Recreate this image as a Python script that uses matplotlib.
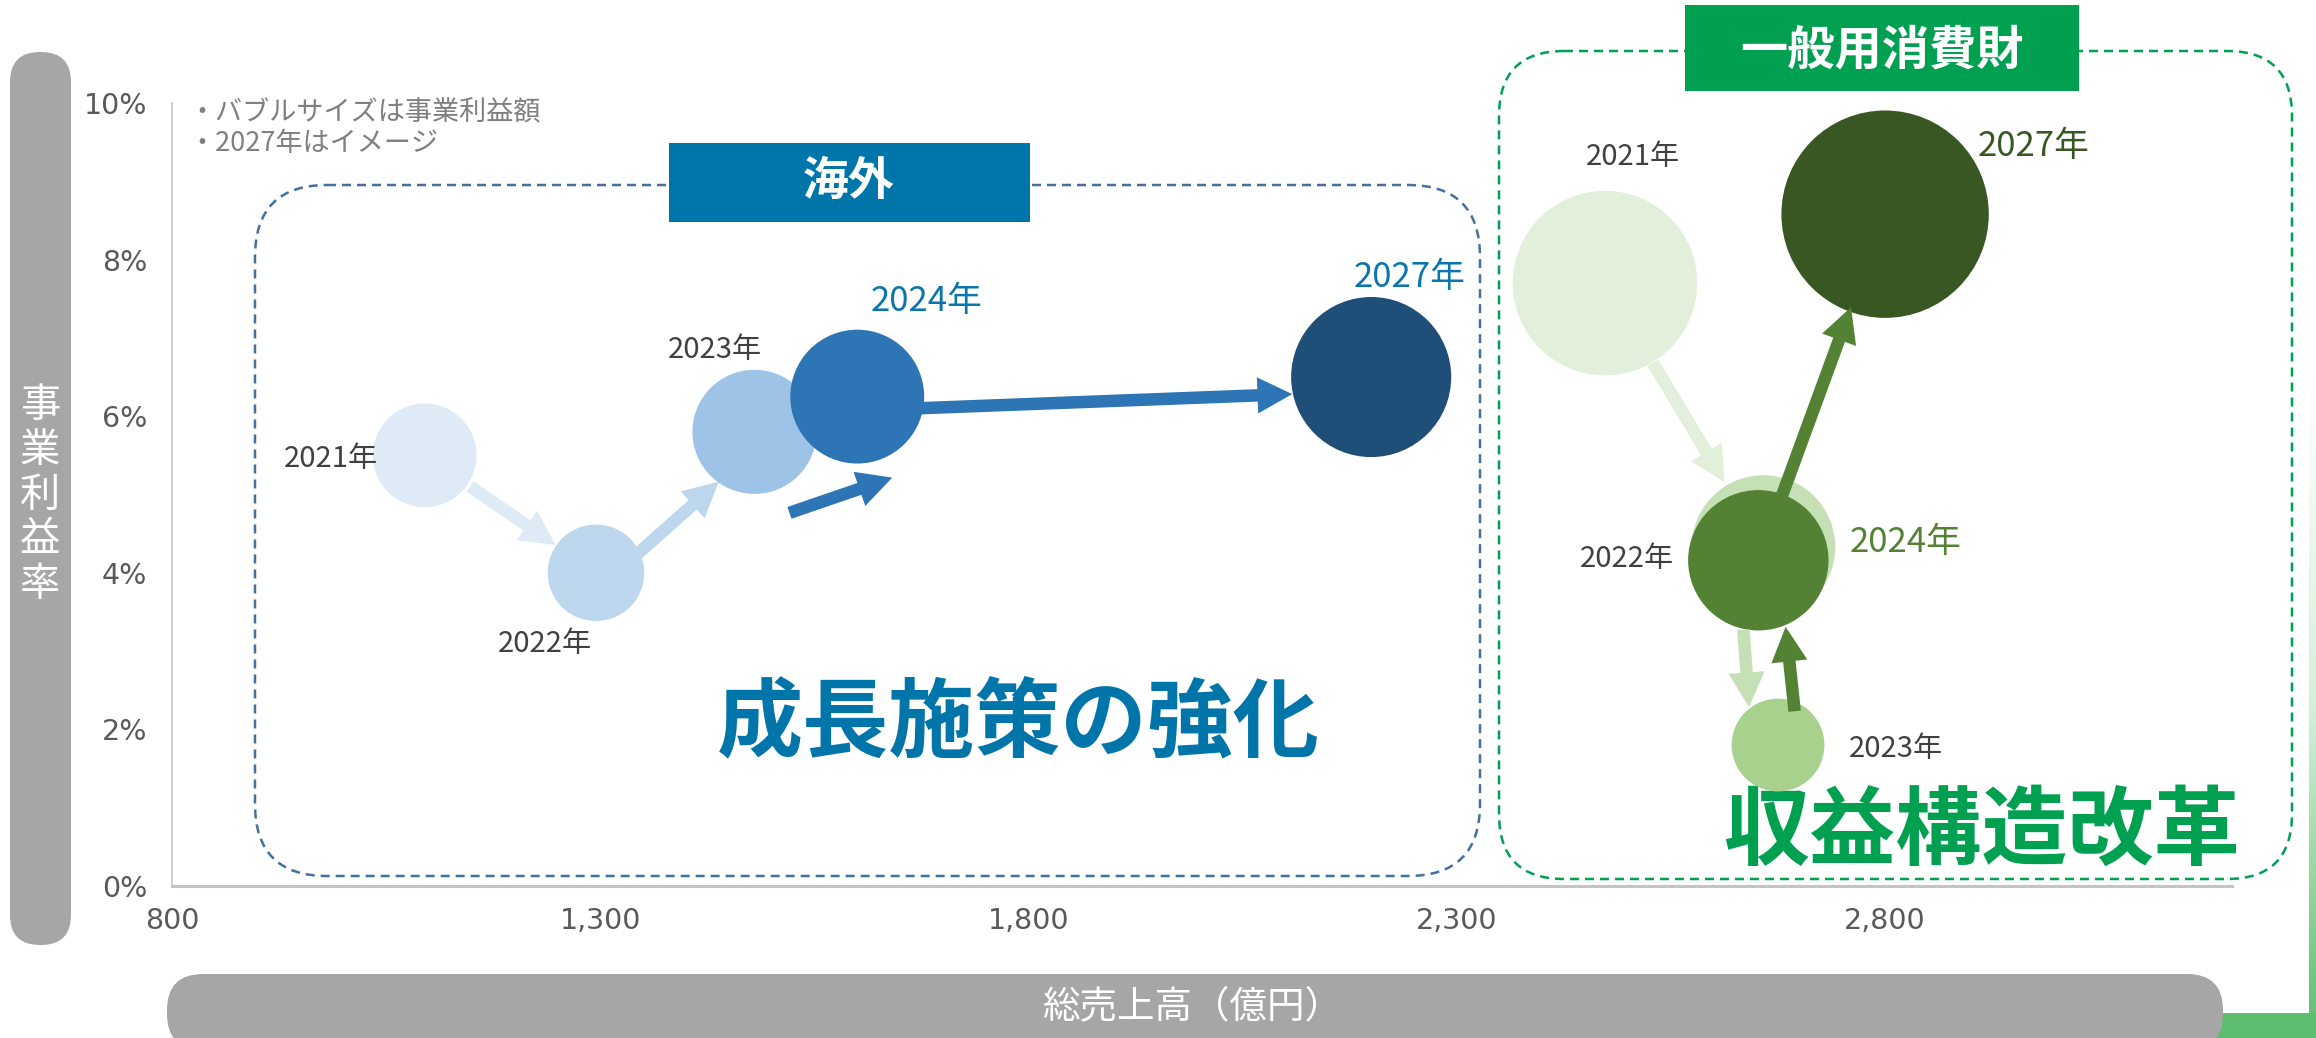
import matplotlib
matplotlib.use("Agg")
import matplotlib.pyplot as plt
import numpy as np
from matplotlib.patches import FancyBboxPatch, FancyArrowPatch, Rectangle, ArrowStyle
from matplotlib import transforms
from matplotlib.colors import LinearSegmentedColormap

plt.rcParams['font.family'] = ['Noto Sans CJK JP', 'DejaVu Sans']

# ---------------- data ----------------
years = ['2021年', '2022年', '2023年', '2024年', '2027年']

overseas_sales = [1095, 1295, 1480, 1600, 2200]      # 総売上高(億円)
overseas_margin = [5.5, 4.0, 5.8, 6.25, 6.5]        # 事業利益率(%)
overseas_profit = [60, 52, 86, 100, 143]            # 事業利益額 (bubble size)

consumer_sales = [2473, 2658, 2675, 2652, 2800]
consumer_margin = [7.7, 4.33, 1.8, 4.16, 8.58]
consumer_profit = [190, 115, 48, 110, 240]

x_ticks = [800, 1300, 1800, 2300, 2800]
x_tick_labels = ['800', '1,300', '1,800', '2,300', '2,800']
y_ticks = [0, 2, 4, 6, 8, 10]
y_tick_labels = ['0%', '2%', '4%', '6%', '8%', '10%']

# ---------------- styles ----------------
ov_colors = ['#DEEAF6', '#BDD7EE', '#9DC3E6', '#2E75B6', '#1F4E79']
con_colors = ['#E2EFDA', '#C5E0B4', '#A9D18E', '#548235', '#385723']
BLUE = '#0075AA'
GREEN = '#00A051'
ov_label_colors = ['#404040', '#404040', '#404040', '#0B76AD', '#0B76AD']
con_label_colors = ['#404040', '#404040', '#404040', '#548235', '#385723']
ov_label_sizes = [21, 21, 21, 25, 25]
con_label_sizes = [21, 21, 21, 25, 25]
# label offsets from bubble center (screen px, y down): (dx, dy baseline)
ov_label_off = [(-94, 12), (-51, 79), (-40, -74), (69, -86), (38, -90)]
con_label_off = [(28, -118), (-137, 20), (118, 12), (147, -8), (148, -58)]
# arrows: (from, to, color, offset px (dx,dy down), shrinkA px, shrinkB px)
ov_arrows = [(0, 1, '#DEEBF7', (0, 0), 55, 49),
             (1, 2, '#BDD7EE', (9, 10), 42, 60),
             (2, 3, '#2E75B6', (35, 81), 0, 0),
             (3, 4, '#2E75B6', (0, 14), 64, 79)]
con_arrows = [(0, 1, '#E2EFDA', (0, 0), 93, 76),
              (1, 2, '#C5E0B4', (-26, 2), 81, 40),
              (2, 3, '#548235', (20, -2), 32, 69),
              (3, 4, '#548235', (0, 0), 69, 99)]
S_PER_PROFIT = 92.9
PX2PT = 0.72

W, H = 2316, 1038
fig = plt.figure(figsize=(W / 100, H / 100), dpi=100)
fig.patch.set_facecolor('white')

# background (pixel) axes
bg = fig.add_axes([0, 0, 1, 1], zorder=0)
bg.set_xlim(0, W)
bg.set_ylim(H, 0)
bg.axis('off')

# decorative green strip / band at right-bottom
grad = np.linspace(0, 1, 256).reshape(-1, 1)
gcmap = LinearSegmentedColormap.from_list('g', ['#FFFFFF', '#D5EFD9', '#5DBE6F'])
bg.imshow(grad, cmap=gcmap, extent=[2309, 2316, 1038, 380], aspect='auto', zorder=0)
bg.add_patch(Rectangle((2195, 1013), 121, 25, color='#5DBE6F', lw=0, zorder=0))

# grey pills (axis titles)
bg.add_patch(FancyBboxPatch((10, 52), 61, 893, boxstyle='round,pad=0,rounding_size=30',
                            fc='#A6A6A6', ec='none', zorder=1))
bg.add_patch(FancyBboxPatch((167, 974), 2056, 76, boxstyle='round,pad=0,rounding_size=36',
                            fc='#A6A6A6', ec='none', zorder=1))
bg.text(40, 495, '\n'.join('事業利益率'), color='white', fontsize=29, ha='center',
        va='center', linespacing=1.12, zorder=2)
bg.text(1193, 1007, '総売上高（億円）', color='white', fontsize=27, ha='center',
        va='center', zorder=2)

# dashed group boxes
bg.add_patch(FancyBboxPatch((255, 185), 1225, 691, boxstyle='round,pad=0,rounding_size=72',
                            fill=False, ec='#41719C', lw=1.8, ls=(0, (3.6, 2.4)), zorder=1))
bg.add_patch(FancyBboxPatch((1499, 51), 793, 828, boxstyle='round,pad=0,rounding_size=65',
                            fill=False, ec=GREEN, lw=1.8, ls=(0, (3.6, 2.4)), zorder=1))

# headers
bg.add_patch(Rectangle((669, 143), 361, 79, fc=BLUE, ec='none', zorder=3))
bg.text(849, 182, '海外', color='white', fontsize=33, fontweight='bold',
        ha='center', va='center', zorder=4)
bg.add_patch(Rectangle((1685, 5), 394, 86, fc=GREEN, ec='none', zorder=3))
bg.text(1882, 50, '一般用消費財', color='white', fontsize=34, fontweight='bold',
        ha='center', va='center', zorder=4)

# notes
bg.text(188, 119, '・バブルサイズは事業利益額', color='#7F7F7F', fontsize=19.5,
        ha='left', va='baseline', zorder=4)
bg.text(188, 151, '・2027年はイメージ', color='#7F7F7F', fontsize=19.5,
        ha='left', va='baseline', zorder=4)

# big messages
bg.text(1018, 724, '成長施策の強化', color=BLUE, fontsize=62, fontweight='bold',
        ha='center', va='center', zorder=4)
bg.text(1981, 833, '収益構造改革', color=GREEN, fontsize=62, fontweight='bold',
        ha='center', va='center', zorder=4)

# ---------------- main axes ----------------
ax = fig.add_axes([172 / W, (H - 886) / H, (2232 - 172) / W, (886 - 103) / H], zorder=1)
ax.patch.set_alpha(0)
ax.set_xlim(800, 3205)
ax.set_ylim(0, 10)
ax.set_autoscale_on(False)
for s in ['top', 'right']:
    ax.spines[s].set_visible(False)
ax.spines['left'].set_color('#CFCFCF')
ax.spines['left'].set_linewidth(1.4)
ax.spines['bottom'].set_color('#C4C4C4')
ax.spines['bottom'].set_linewidth(2.2)
ax.set_xticks(x_ticks)
ax.set_xticklabels(x_tick_labels, fontfamily='DejaVu Sans')
ax.set_yticks(y_ticks)
ax.set_yticklabels(y_tick_labels, fontfamily='DejaVu Sans')
ax.tick_params(axis='both', length=0, labelsize=20.5, labelcolor='#595959')
ax.tick_params(axis='x', pad=15)
ax.tick_params(axis='y', pad=18)


def draw_series(sales, margin, profit, colors, label_colors, label_sizes, label_off, arrows):
    ax.scatter(sales, margin, s=np.array(profit) * S_PER_PROFIT, c=colors,
               edgecolors='none', zorder=2)
    for (i, j, col, off, sa, sb) in arrows:
        trans = transforms.offset_copy(ax.transData, fig=fig, x=off[0] * PX2PT,
                                       y=-off[1] * PX2PT, units='points')
        arr = FancyArrowPatch((sales[i], margin[i]), (sales[j], margin[j]),
                              arrowstyle=ArrowStyle.Simple(head_length=25, head_width=26,
                                                           tail_width=9),
                              mutation_scale=1, shrinkA=sa * PX2PT, shrinkB=sb * PX2PT,
                              fc=col, ec='none', lw=0, transform=trans, zorder=3)
        ax.add_patch(arr)
    for k, yr in enumerate(years):
        dx, dy = label_off[k]
        ax.annotate(yr, (sales[k], margin[k]), xytext=(dx * PX2PT, -dy * PX2PT),
                    textcoords='offset points', ha='center', va='baseline',
                    fontsize=label_sizes[k], color=label_colors[k], zorder=4,
                    annotation_clip=False)


draw_series(overseas_sales, overseas_margin, overseas_profit, ov_colors,
            ov_label_colors, ov_label_sizes, ov_label_off, ov_arrows)
draw_series(consumer_sales, consumer_margin, consumer_profit, con_colors,
            con_label_colors, con_label_sizes, con_label_off, con_arrows)

fig.savefig('out.png', dpi=100)
